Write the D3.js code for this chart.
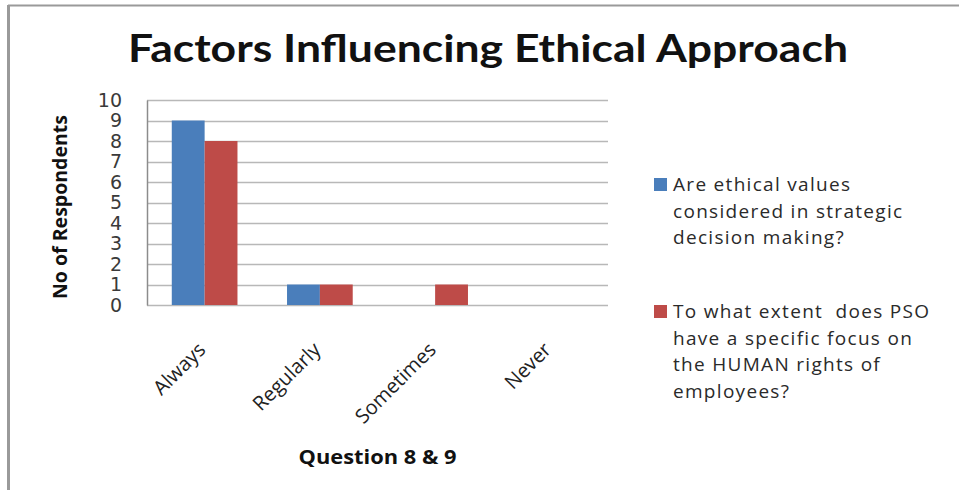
<!DOCTYPE html>
<html>
<head>
<meta charset="utf-8">
<script src="https://cdn.jsdelivr.net/npm/d3@7"></script>
<style>
  html, body { margin: 0; padding: 0; background: #fff; }
  svg { display: block; }
</style>
</head>
<body>
<svg id="chart" width="959" height="490"></svg>
<script>
// Response categories along the x axis
const categories = ["Always", "Regularly", "Sometimes", "Never"];
// Question 8: ethical values in strategic decision making
const q8Values = [9, 1, 0, 0];
// Question 9: focus on human rights of employees
const q9Values = [8, 1, 1, 0];
const yTicks = [0, 1, 2, 3, 4, 5, 6, 7, 8, 9, 10];
const seriesNames = [
  ["Are ethical values", "considered in strategic", "decision making?"],
  ["To what extent  does PSO", "have a specific focus on", "the HUMAN rights of", "employees?"]
];
const seriesColors = ["#4a7ebb", "#be4b48"];

const svg = d3.select("#chart");
const W = 959, H = 490;
const plot = { left: 147, right: 608, top: 100, bottom: 305 };

// frame
svg.append("line").attr("x1", 8).attr("x2", W).attr("y1", 5.5).attr("y2", 5.5)
  .attr("stroke", "#9a9a9a").attr("stroke-width", 2);
svg.append("line").attr("x1", 8.5).attr("x2", 8.5).attr("y1", 5).attr("y2", H)
  .attr("stroke", "#9a9a9a").attr("stroke-width", 3);

// title
svg.append("text")
  .attr("x", 488).attr("y", 62)
  .attr("text-anchor", "middle")
  .attr("font-family", "Lato, 'Open Sans', sans-serif")
  .attr("font-weight", "bold")
  .attr("font-size", 38)
  .attr("textLength", 720)
  .attr("lengthAdjust", "spacingAndGlyphs")
  .attr("fill", "#111")
  .text("Factors Influencing Ethical Approach");

const x0 = d3.scaleBand().domain(categories).range([plot.left, plot.right]).paddingInner(0.43).paddingOuter(0.215);
const x1 = d3.scaleBand().domain([0, 1]).range([0, x0.bandwidth()]);
const y = d3.scaleLinear().domain([0, 10]).range([plot.bottom, plot.top]);

// gridlines
svg.append("g").selectAll("line").data(yTicks).join("line")
  .attr("x1", plot.left).attr("x2", plot.right)
  .attr("y1", d => Math.round(y(d)) + 0.5).attr("y2", d => Math.round(y(d)) + 0.5)
  .attr("stroke", "#b8b8b8").attr("stroke-width", 1.5);

// y axis
const yAxis = d3.axisLeft(y).tickValues(yTicks).tickSize(0).tickPadding(25);
const gy = svg.append("g").attr("transform", `translate(${plot.left},0)`).call(yAxis);
gy.select(".domain").attr("stroke", "#8c8c8c").attr("stroke-width", 1.5);
gy.selectAll("text")
  .attr("font-family", "'DejaVu Sans', sans-serif")
  .attr("font-size", 19)
  .attr("fill", "#3a3a3a");

// bars
const series = [q8Values, q9Values];
series.forEach((vals, si) => {
  svg.append("g").selectAll("rect").data(vals).join("rect")
    .attr("x", (d, i) => x0(categories[i]) + x1(si))
    .attr("width", x1.bandwidth())
    .attr("y", d => y(d))
    .attr("height", d => y(0) - y(d))
    .attr("fill", seriesColors[si]);
});

// x axis labels
const xAxis = d3.axisBottom(x0).tickSize(0).tickPadding(0);
const gx = svg.append("g").attr("transform", `translate(0,${plot.bottom})`).call(xAxis);
gx.select(".domain").remove();
gx.selectAll("text")
  .attr("font-family", "'Open Sans', sans-serif")
  .attr("font-size", 20)
  .attr("fill", "#222")
  .attr("text-anchor", "end")
  .attr("dy", 0)
  .attr("transform", "translate(2,46) rotate(-45)");

// axis titles
svg.append("text")
  .attr("transform", "translate(67,207) rotate(-90)")
  .attr("text-anchor", "middle")
  .attr("font-family", "'Open Sans', sans-serif")
  .attr("font-weight", "bold")
  .attr("font-size", 19)
  .attr("textLength", 184)
  .attr("lengthAdjust", "spacingAndGlyphs")
  .attr("fill", "#111")
  .text("No of Respondents");

svg.append("text")
  .attr("x", (plot.left + plot.right) / 2).attr("y", 464)
  .attr("text-anchor", "middle")
  .attr("font-family", "'Open Sans', sans-serif")
  .attr("font-weight", "bold")
  .attr("font-size", 20)
  .attr("textLength", 158)
  .attr("lengthAdjust", "spacingAndGlyphs")
  .attr("fill", "#111")
  .text("Question 8 & 9");

// legend
const legendTop = [191, 318];
seriesNames.forEach((lines, si) => {
  const g = svg.append("g");
  g.append("rect").attr("x", 654).attr("y", legendTop[si] - 13)
    .attr("width", 13).attr("height", 13).attr("fill", seriesColors[si]);
  g.append("text")
    .attr("font-family", "'Open Sans', sans-serif")
    .attr("font-size", 19)
    .attr("letter-spacing", 1.3)
    .attr("fill", "#2a2a2a")
    .selectAll("tspan").data(lines).join("tspan")
    .attr("x", 673)
    .attr("y", (d, i) => legendTop[si] + i * 26.7)
    .attr("xml:space", "preserve")
    .text(d => d);
});
</script>
</body>
</html>
